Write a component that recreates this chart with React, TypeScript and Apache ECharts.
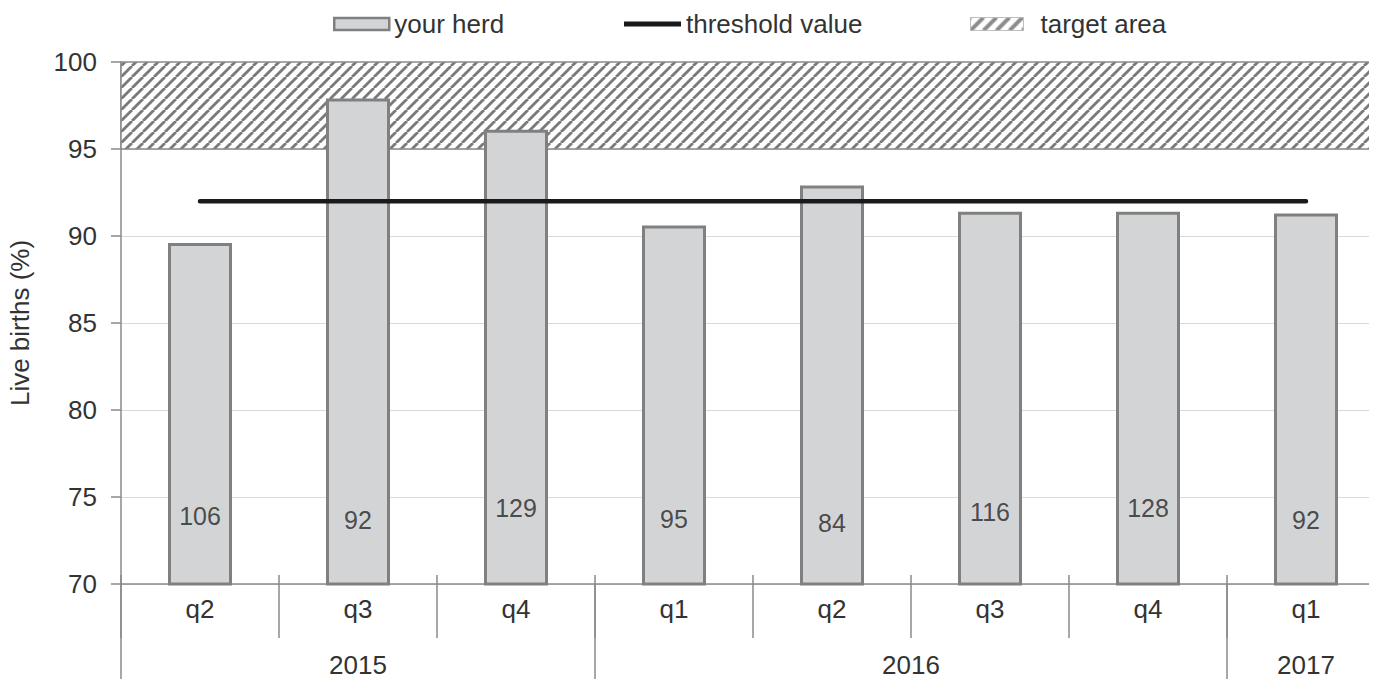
import React, { useEffect, useRef } from "react";
import * as echarts from "echarts";

const quarters = ["q2", "q3", "q4", "q1", "q2", "q3", "q4", "q1"];
const herdValues = [89.6, 97.9, 96.1, 90.6, 92.9, 91.4, 91.4, 91.3];
const thresholdValues = [92, 92, 92, 92, 92, 92, 92, 92];
const herdCounts = [106, 92, 129, 95, 84, 116, 128, 92];
const yearLabels: Record<string, string> = { "1.5": "2015", "5": "2016", "7.5": "2017" };
const yearLabelPositions = [1.5, 5, 7.5];
const yearBoundaries = [0, 3, 7];
const targetRange = [95, 100];
const yTicks = { min: 70, max: 100, interval: 5 };

function makeHatch(size: number, width: number, color: string): HTMLCanvasElement {
  const c = document.createElement("canvas");
  c.width = size;
  c.height = size;
  const ctx = c.getContext("2d")!;
  ctx.fillStyle = "#ffffff";
  ctx.fillRect(0, 0, size, size);
  ctx.strokeStyle = color;
  ctx.lineWidth = width;
  for (const o of [-size, 0, size]) {
    ctx.beginPath();
    ctx.moveTo(o, size);
    ctx.lineTo(o + size, 0);
    ctx.stroke();
  }
  return c;
}

export default function App() {
  const ref = useRef<HTMLDivElement>(null);
  useEffect(() => {
    if (!ref.current) return;
    const chart = echarts.init(ref.current, undefined, { renderer: "svg" });
    const hatch = { image: makeHatch(11, 2.8, "#7a7a7a"), repeat: "repeat" } as any;
    const legendHatch = { image: makeHatch(13, 4, "#6e6e6e"), repeat: "repeat" } as any;
    const font = "Liberation Sans";
    const textColor = "#333333";
    const axisGray = "#8a8a8a";
    const legendText = { fontSize: 26, color: textColor, fontFamily: font, lineHeight: 28 };
    chart.setOption({
      animation: false,
      textStyle: { fontFamily: font },
      legend: [
        {
          data: [{ name: "your herd", icon: "rect" }],
          left: 328,
          top: 5,
          itemWidth: 55,
          itemHeight: 12,
          itemStyle: { color: "#d3d4d6", borderColor: "#808080", borderWidth: 2.5 },
          textStyle: { ...legendText, padding: [0, 0, 0, 0] },
        },
        {
          data: [{ name: "threshold value", icon: "rect" }],
          left: 619,
          top: 5,
          itemWidth: 57,
          itemHeight: 5,
          itemStyle: { color: "#1a1a1a", borderWidth: 0 },
          textStyle: { ...legendText, padding: [0, 0, 0, 0] },
        },
        {
          data: [{ name: "target area", icon: "rect" }],
          left: 965,
          top: 5,
          itemWidth: 53,
          itemHeight: 13,
          itemStyle: { color: legendHatch, borderColor: "#b0b0b0", borderWidth: 1 },
          textStyle: { ...legendText, padding: [0, 0, 0, 12] },
        },
      ],
      grid: {
        left: 121,
        width: 1264,
        top: 62,
        bottom: 103,
        containLabel: false,
        outerBoundsMode: "none",
      },
      xAxis: [
        {
          type: "category",
          data: quarters,
          position: "bottom",
          axisLine: { show: true, onZero: false, lineStyle: { color: axisGray, width: 1.5 } },
          axisTick: { show: true, length: 54, lineStyle: { color: axisGray, width: 1.5 } },
          axisLabel: { fontSize: 26, color: textColor, margin: 12, fontFamily: font },
        },
        {
          type: "value",
          min: 0,
          max: 8,
          position: "bottom",
          axisLine: { show: false, onZero: false },
          splitLine: { show: false },
          axisTick: {
            show: true,
            length: 104,
            customValues: yearBoundaries,
            lineStyle: { color: axisGray, width: 1.5 },
          },
          axisLabel: {
            show: true,
            customValues: yearLabelPositions,
            formatter: (v: number) => yearLabels[String(v)] || "",
            fontSize: 26,
            color: textColor,
            margin: 68,
            fontFamily: font,
          },
        },
        {
          type: "category",
          data: quarters,
          position: "top",
          offset: -522,
          axisLine: { show: false, onZero: false },
          axisLabel: { show: false },
          splitLine: { show: false },
          axisTick: { show: true, inside: false, length: 9, lineStyle: { color: axisGray, width: 1.5 } },
        },
      ],
      yAxis: [
        {
          type: "value",
          min: yTicks.min,
          max: yTicks.max,
          interval: yTicks.interval,
          name: "Live births (%)",
          nameLocation: "middle",
          nameGap: 88,
          nameRotate: 90,
          nameTextStyle: { fontSize: 26, color: textColor, fontFamily: font },
          axisLine: { show: true, lineStyle: { color: axisGray, width: 1.5 } },
          axisTick: { show: true, length: 10, lineStyle: { color: axisGray, width: 1.5 } },
          axisLabel: { fontSize: 26, color: textColor, margin: 24, fontFamily: font },
          splitLine: { show: true, lineStyle: { color: "#d9d9d9", width: 1.2 } },
        },
        {
          type: "value",
          min: -99,
          max: 1467,
          show: false,
          splitLine: { show: false },
        },
      ],
      series: [
        {
          name: "your herd",
          type: "bar",
          data: herdValues,
          barWidth: 64,
          itemStyle: { color: "#d3d4d6", borderColor: "#808080", borderWidth: 3 },
          z: 3,
        },
        {
          name: "threshold value",
          type: "line",
          data: thresholdValues,
          symbol: "none",
          showSymbol: false,
          lineStyle: { color: "#1a1a1a", width: 4.5, cap: "round" },
          itemStyle: { color: "#1a1a1a" },
          z: 4,
        },
        {
          name: "target area",
          type: "scatter",
          data: [],
          itemStyle: { color: legendHatch, borderColor: "#b0b0b0", borderWidth: 1 },
          markArea: {
            silent: true,
            itemStyle: { color: hatch, borderColor: axisGray, borderWidth: 1.5 },
            data: [[{ yAxis: targetRange[0] }, { yAxis: targetRange[1] }]],
          },
          z: 1,
        },
        {
          name: "count",
          type: "scatter",
          yAxisIndex: 1,
          data: herdCounts,
          symbolSize: 1,
          itemStyle: { color: "rgba(0,0,0,0)" },
          silent: true,
          label: {
            show: true,
            position: "inside",
            formatter: "{c}",
            fontSize: 25,
            color: "#262626",
            fontFamily: font,
          },
          z: 5,
        },
      ],
    });
    return () => chart.dispose();
  }, []);
  return <div ref={ref} style={{ width: 1377, height: 687, margin: -8 }} />;
}
